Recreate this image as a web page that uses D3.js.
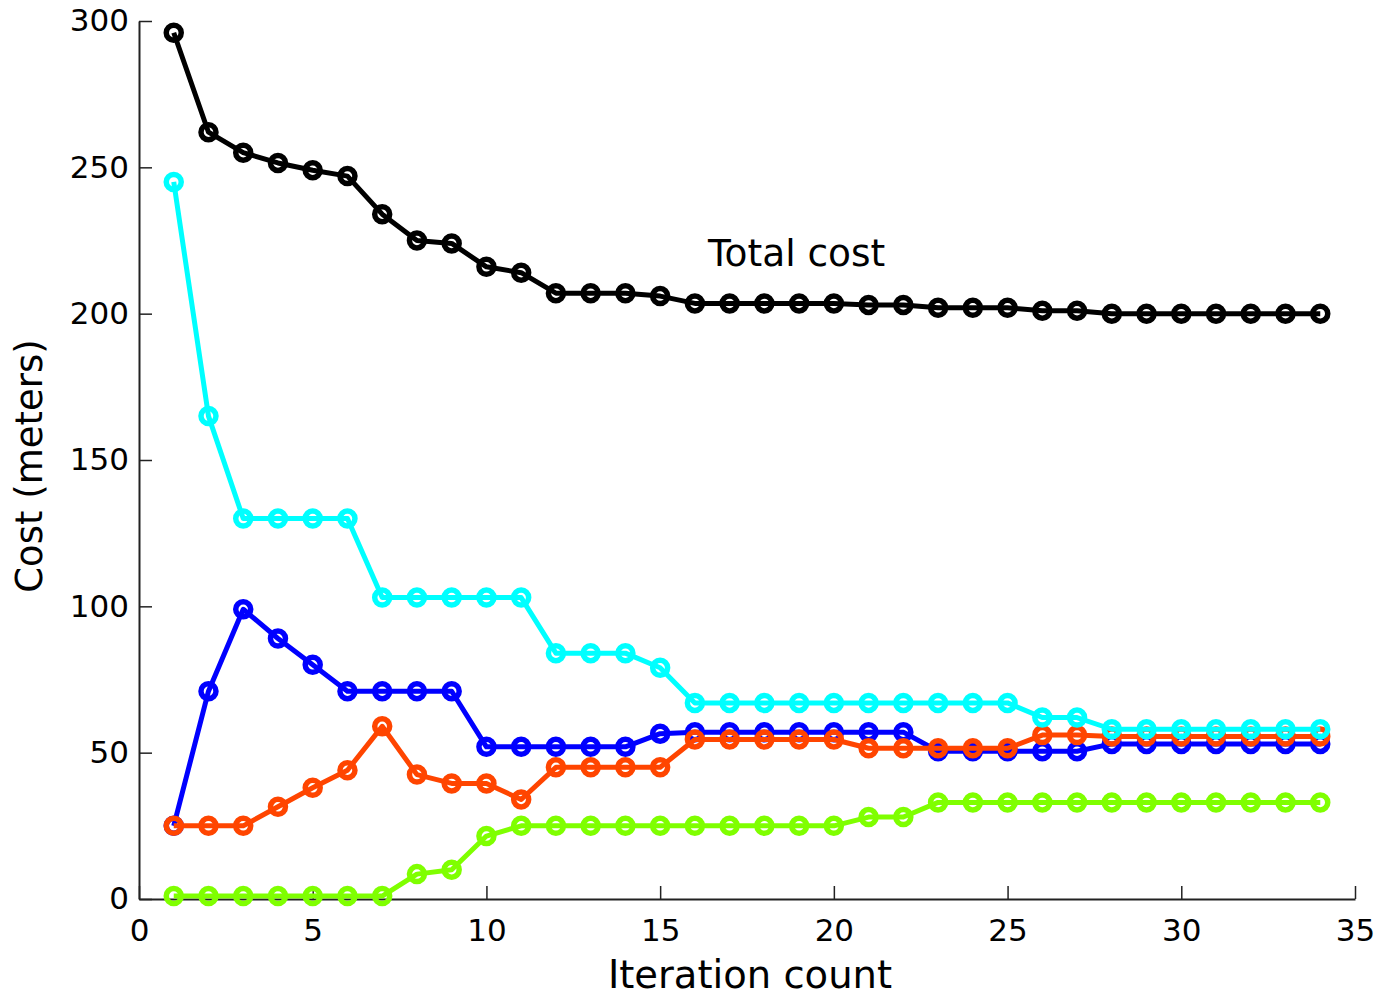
<!DOCTYPE html>
<html>
<head>
<meta charset="utf-8">
<script src="https://cdn.jsdelivr.net/npm/d3@7"></script>
<style>
  body { margin: 0; background: #fff; }
  text { font-family: "DejaVu Sans", sans-serif; fill: #000; }
</style>
</head>
<body>
<div id="chart"></div>
<script>
// iteration index 1..34
const iterations = d3.range(1, 35);

const totalCost = [296, 262, 255, 251.5, 249, 247, 234, 225, 224, 216, 214, 207, 207, 207, 206,
  203.5, 203.5, 203.5, 203.5, 203.5, 203, 203, 202, 202, 202, 201, 201, 200, 200, 200, 200, 200, 200, 200];
const cyanCost = [245, 165, 130, 130, 130, 130, 103, 103, 103, 103, 103, 84, 84, 84, 79,
  67, 67, 67, 67, 67, 67, 67, 67, 67, 67, 62, 62, 58, 58, 58, 58, 58, 58, 58];
const blueCost = [25, 71, 99, 89, 80, 71, 71, 71, 71, 52, 52, 52, 52, 52, 56.5,
  57, 57, 57, 57, 57, 57, 57, 50.5, 50.5, 50.5, 50.5, 50.5, 53, 53, 53, 53, 53, 53, 53];
const orangeCost = [25, 25, 25, 31.5, 38, 44, 59, 42.5, 39.5, 39.5, 34, 45, 45, 45, 45,
  54.5, 54.5, 54.5, 54.5, 54.5, 51.5, 51.5, 51.5, 51.5, 51.5, 56, 56, 55.5, 55.5, 55.5, 55.5, 55.5, 55.5, 55.5];
const greenCost = [1, 1, 1, 1, 1, 1, 1, 8.5, 10, 21.5, 25, 25, 25, 25, 25,
  25, 25, 25, 25, 25, 28, 28, 33, 33, 33, 33, 33, 33, 33, 33, 33, 33, 33, 33];

const seriesNames = ['blue', 'orange', 'cyan', 'total', 'green'];
const seriesValues = [blueCost, orangeCost, cyanCost, totalCost, greenCost];
const seriesColors = ['#0000ff', '#ff4500', '#00ffff', '#000000', '#7fff00'];

const xTicks = [0, 5, 10, 15, 20, 25, 30, 35];
const yTicks = [0, 50, 100, 150, 200, 250, 300];

const W = 1382, H = 996;
const margin = { top: 21, right: 27, bottom: 97, left: 139 };
const width = W - margin.left - margin.right,
  height = H - margin.top - margin.bottom;

const svg = d3.select('#chart')
  .append('svg')
  .attr('width', W)
  .attr('height', H);

const g = svg.append('g')
  .attr('transform', `translate(${margin.left},${margin.top})`);

const x = d3.scaleLinear([0, 35], [0, width]);
const y = d3.scaleLinear([0, 300], [height, 0]);

// axes, ticks pointing inward
const xAxis = d3.axisBottom(x).tickValues(xTicks).tickSize(-13).tickSizeOuter(0).tickPadding(20);
const yAxis = d3.axisLeft(y).tickValues(yTicks).tickSize(-13).tickSizeOuter(0).tickPadding(10);

const gx = g.append('g')
  .attr('transform', `translate(0,${height})`)
  .call(xAxis);
const gy = g.append('g').call(yAxis);

[gx, gy].forEach(a => {
  a.select('.domain').attr('stroke', '#222').attr('stroke-width', 2);
  a.selectAll('.tick line').attr('stroke', '#222').attr('stroke-width', 1.5);
  a.selectAll('.tick text').attr('font-size', 31).attr('font-family', 'DejaVu Sans').attr('fill', '#000');
});
gx.selectAll('.tick text').attr('dy', '0.71em');

// series
const line = d3.line()
  .x((d, i) => x(iterations[i]))
  .y(d => y(d));

seriesValues.forEach((vals, k) => {
  const s = g.append('g').attr('class', 'series-' + seriesNames[k]);
  s.append('path')
    .datum(vals)
    .attr('fill', 'none')
    .attr('stroke', seriesColors[k])
    .attr('stroke-width', 5)
    .attr('stroke-linejoin', 'round')
    .attr('d', line);
  s.selectAll('circle')
    .data(vals)
    .join('circle')
    .attr('cx', (d, i) => x(iterations[i]))
    .attr('cy', d => y(d))
    .attr('r', 7.5)
    .attr('fill', 'none')
    .attr('stroke', seriesColors[k])
    .attr('stroke-width', 5.5);
});

// annotation
g.append('text')
  .attr('x', 708 - margin.left)
  .attr('y', 266 - margin.top)
  .attr('font-size', 37.5)
  .text('Total cost');

// axis labels
svg.append('text')
  .attr('x', 750)
  .attr('y', 988)
  .attr('text-anchor', 'middle')
  .attr('font-size', 38.5)
  .text('Iteration count');

svg.append('text')
  .attr('transform', `translate(42,${466}) rotate(-90)`)
  .attr('text-anchor', 'middle')
  .attr('font-size', 37)
  .text('Cost (meters)');
</script>
</body>
</html>
